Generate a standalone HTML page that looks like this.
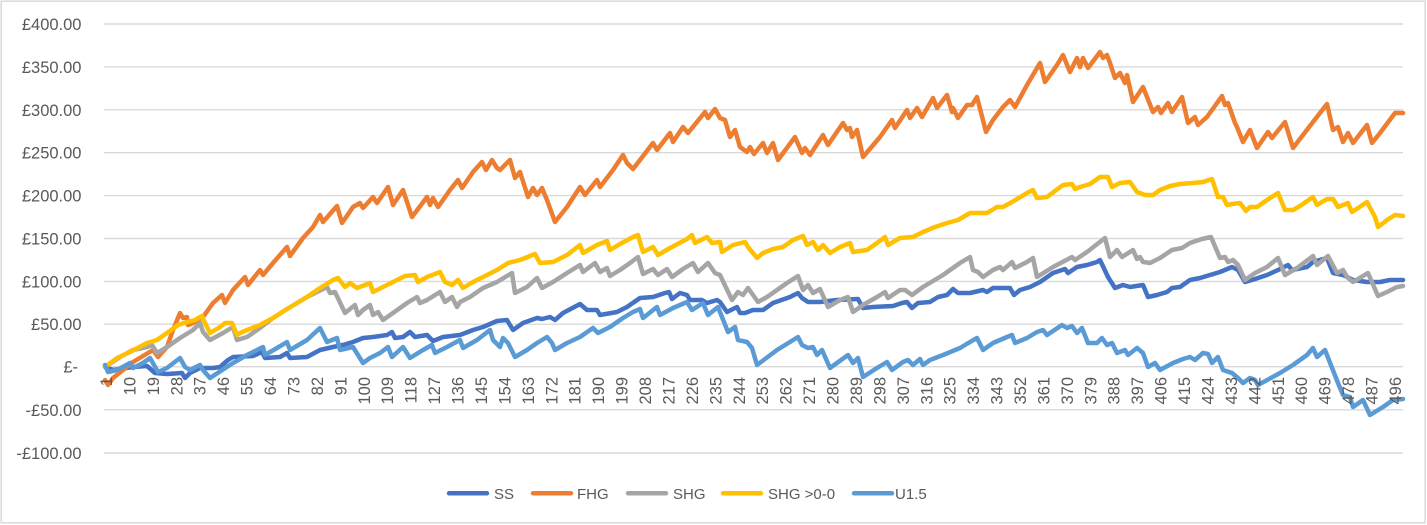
<!DOCTYPE html>
<html>
<head>
<meta charset="utf-8">
<style>
  html, body { margin: 0; padding: 0; background: #ffffff; }
  svg { display: block; }
  text { font-family: "Liberation Sans", Arial, sans-serif; fill: #595959; }
</style>
</head>
<body>
<svg width="1427" height="525" viewBox="0 0 1427 525" xmlns="http://www.w3.org/2000/svg">
  <rect x="0" y="0" width="1427" height="525" fill="#ffffff"/>
  <rect x="1.2" y="1.2" width="1424" height="521.6" fill="none" stroke="#D9D9D9" stroke-width="1.5"/>

  <!-- gridlines -->
  <g stroke="#D9D9D9" stroke-width="1.4">
    <line x1="104" y1="24" x2="1403" y2="24"/>
    <line x1="104" y1="66.9" x2="1403" y2="66.9"/>
    <line x1="104" y1="109.8" x2="1403" y2="109.8"/>
    <line x1="104" y1="152.7" x2="1403" y2="152.7"/>
    <line x1="104" y1="195.6" x2="1403" y2="195.6"/>
    <line x1="104" y1="238.5" x2="1403" y2="238.5"/>
    <line x1="104" y1="281.4" x2="1403" y2="281.4"/>
    <line x1="104" y1="324.2" x2="1403" y2="324.2"/>
    <line x1="104" y1="366.7" x2="1403" y2="366.7"/>
    <line x1="104" y1="409.8" x2="1403" y2="409.8"/>
    <line x1="104" y1="453" x2="1403" y2="453"/>
  </g>

  <!-- y axis labels -->
  <g font-size="16.5" text-anchor="end">
    <text x="81.5" y="30">£400.00</text>
    <text x="81.5" y="72.9">£350.00</text>
    <text x="81.5" y="115.8">£300.00</text>
    <text x="81.5" y="158.7">£250.00</text>
    <text x="81.5" y="201.6">£200.00</text>
    <text x="81.5" y="244.5">£150.00</text>
    <text x="81.5" y="287.4">£100.00</text>
    <text x="81.5" y="330.2">£50.00</text>
    <text x="78" y="372.7">£-</text>
    <text x="81.5" y="415.8">-£50.00</text>
    <text x="81.5" y="459">-£100.00</text>
  </g>

  <!-- series -->
  <g fill="none" stroke-width="4.5" stroke-linejoin="round" stroke-linecap="round">
    <polyline stroke="#4472C4" points="105,367 113,370 133,367 147,366 155,373 167,374 182,373 185,378 190,373 200,368 213,368 220,367 228,360 233,357 253,356 262,352 265,358 280,357 287,353 290,358 307,357 320,350 333,347 343,345 353,342 363,338 373,337 387,335 392,332 395,338 403,337 410,332 415,337 427,335 433,341 443,337 460,335 473,330 483,327 497,321 507,320 513,330 523,323 537,318 542,319 550,317 555,320 563,313 580,304 587,310 597,310 600,315 617,312 627,307 640,298 653,297 665,293 669,292 672,299 680,293 687,295 690,300 702,300 707,303 717,300 720,302 727,312 733,309 737,307 740,313 745,313 753,310 763,310 773,303 790,297 798,293 802,298 808,302 820,302 837,300 858,299 863,308 873,307 893,306 902,303 907,302 912,308 918,303 930,302 938,297 947,295 953,289 958,293 970,293 983,290 987,292 993,288 1010,288 1014,295 1020,290 1030,287 1040,282 1053,273 1065,269 1068,273 1077,267 1087,265 1097,262 1100,260 1108,277 1115,288 1123,285 1130,287 1143,285 1148,297 1157,295 1167,292 1172,288 1180,287 1190,280 1200,278 1210,275 1220,272 1232,267 1238,270 1245,282 1252,280 1267,275 1278,270 1288,265 1292,270 1307,267 1313,262 1323,259 1327,258 1333,273 1343,275 1353,280 1367,282 1380,282 1390,280 1403,280"/>
    <polyline stroke="#ED7D31" points="105,380 108,385 113,378 123,370 133,362 143,356 153,350 158,357 167,347 173,330 180,313 183,318 187,317 188,325 193,323 203,317 213,303 222,295 225,303 233,290 245,277 248,285 260,270 263,275 273,263 287,247 290,256 303,238 313,227 320,215 323,222 337,206 342,223 353,207 360,203 363,208 373,197 377,203 388,187 393,205 403,190 412,217 427,197 430,205 433,198 438,207 450,190 458,180 462,188 473,172 482,162 486,170 492,160 497,168 500,170 510,160 515,178 520,172 528,197 533,188 537,195 542,188 547,200 555,222 567,207 580,187 585,195 597,180 600,187 613,170 623,155 627,163 633,169 640,160 653,143 657,150 670,133 673,142 683,127 688,133 705,112 708,118 715,109 720,118 725,120 730,137 735,130 740,147 747,152 750,147 754,154 763,143 767,153 773,143 778,160 795,137 802,153 805,148 810,155 823,135 828,145 843,123 847,130 850,128 852,137 857,130 863,157 880,137 887,127 892,120 895,128 907,110 910,118 917,108 922,117 933,98 937,108 947,95 952,112 953,108 958,118 967,105 972,105 977,97 986,132 993,120 1003,107 1010,100 1015,107 1027,85 1040,63 1045,82 1057,65 1063,55 1070,72 1077,58 1080,67 1083,58 1088,68 1100,52 1103,58 1107,55 1110,63 1115,78 1120,73 1125,83 1127,75 1133,102 1143,87 1153,112 1158,107 1161,113 1168,103 1172,112 1182,97 1188,123 1195,117 1198,125 1207,117 1222,96 1225,105 1228,103 1235,123 1237,127 1243,142 1250,130 1257,148 1268,132 1272,138 1285,122 1293,148 1313,122 1327,104 1333,130 1338,127 1343,142 1348,133 1353,143 1367,125 1372,143 1380,133 1395,113 1403,113"/>
    <polyline stroke="#A5A5A5" points="105,367 120,357 133,350 147,347 152,345 157,353 167,347 180,338 193,330 200,323 203,332 210,340 223,333 233,327 237,340 247,337 260,328 273,318 287,309 307,297 327,287 330,293 335,292 345,313 355,305 358,315 363,310 370,305 373,315 378,312 383,320 393,313 407,303 417,297 420,303 427,300 440,292 445,302 452,297 457,307 460,302 470,297 483,288 497,282 512,273 515,293 527,287 537,278 542,288 553,282 567,273 580,265 583,272 595,263 600,272 607,268 610,276 620,270 630,263 638,257 643,274 653,269 658,275 667,269 672,277 683,269 693,263 698,272 708,263 715,273 720,275 732,300 738,292 743,295 748,288 758,302 767,297 777,290 787,283 798,276 803,290 808,285 813,293 820,289 828,307 840,300 848,297 853,312 863,305 877,297 885,292 888,298 900,290 905,290 912,295 923,287 943,275 960,263 970,257 973,270 978,272 983,277 993,270 1000,267 1003,270 1012,262 1015,268 1027,262 1033,258 1037,277 1053,267 1072,257 1075,260 1087,252 1105,238 1110,257 1117,250 1122,257 1133,250 1137,259 1140,257 1143,262 1150,263 1160,258 1172,250 1182,248 1190,243 1202,239 1211,237 1220,258 1225,257 1228,262 1233,260 1238,265 1245,280 1255,273 1267,267 1278,258 1285,275 1297,268 1313,256 1317,265 1328,256 1337,273 1343,270 1347,277 1353,282 1368,273 1378,296 1387,292 1397,287 1403,286"/>
    <polyline stroke="#FFC000" points="105,367 117,358 130,352 147,343 157,340 167,333 178,325 187,322 195,320 202,316 205,323 210,333 220,327 225,323 232,323 237,335 240,333 247,330 260,325 273,318 287,309 307,297 320,288 333,280 338,278 345,287 350,283 357,288 370,283 373,292 383,287 393,282 405,276 415,275 418,282 427,277 440,272 445,282 452,285 458,280 463,288 473,282 487,275 497,270 508,263 520,260 535,254 540,263 553,262 567,255 580,245 583,253 597,245 607,241 610,250 620,244 633,237 638,235 643,252 653,247 658,255 670,248 687,239 692,235 695,243 707,237 712,243 720,242 722,252 733,245 745,242 748,247 757,258 763,253 773,249 783,247 793,240 803,236 807,245 813,242 818,250 823,245 830,253 840,247 850,243 853,252 867,250 877,243 885,237 888,245 900,238 913,237 923,232 935,227 947,223 958,220 970,213 987,213 997,207 1003,207 1012,202 1027,193 1033,190 1037,198 1047,197 1063,185 1072,184 1075,189 1080,187 1090,184 1100,177 1108,177 1112,187 1120,183 1130,182 1137,192 1145,195 1153,195 1160,190 1170,186 1180,184 1193,183 1203,182 1212,179 1218,197 1223,197 1227,205 1232,204 1240,203 1246,211 1250,207 1257,207 1267,200 1278,193 1285,210 1293,210 1300,206 1313,197 1317,205 1327,199 1333,199 1338,207 1348,203 1352,212 1367,202 1375,217 1378,227 1387,220 1395,215 1403,216"/>
    <polyline stroke="#5B9BD5" points="105,365 108,372 117,370 130,363 133,368 143,363 150,358 158,372 167,368 180,358 185,367 190,370 200,365 203,370 210,378 233,363 247,355 263,347 265,355 277,348 287,342 290,350 307,340 320,328 327,342 337,338 340,350 353,347 363,363 370,358 380,353 388,347 392,357 403,347 410,358 423,350 432,345 435,353 447,347 460,340 463,348 477,340 490,330 493,340 500,347 503,338 508,343 515,357 527,350 537,343 547,337 552,343 555,350 567,343 580,337 593,328 598,333 610,327 623,318 633,312 640,309 643,318 657,307 660,315 673,308 687,302 692,310 703,303 708,315 718,307 728,332 735,327 738,340 747,342 752,348 757,365 777,350 798,337 802,345 808,348 813,347 817,355 822,350 830,368 848,355 853,363 858,358 863,377 877,368 887,362 892,370 903,362 908,360 913,365 920,359 923,365 930,360 943,355 960,348 970,342 977,338 983,350 993,343 1007,337 1012,335 1015,343 1027,338 1037,332 1043,330 1047,335 1062,325 1067,328 1072,326 1077,333 1082,328 1088,343 1097,343 1102,338 1107,345 1112,343 1117,353 1125,350 1128,355 1137,348 1143,353 1148,367 1155,363 1160,370 1173,363 1183,359 1190,357 1195,360 1203,353 1208,354 1212,363 1218,357 1223,370 1232,373 1238,378 1243,383 1250,378 1255,380 1258,385 1280,373 1293,365 1307,355 1313,348 1317,357 1325,350 1338,383 1343,395 1350,397 1353,407 1363,400 1370,415 1383,407 1393,400 1403,399"/>
  </g>

  <!-- x axis labels -->
  <g font-size="16.5" text-anchor="end">
    <text transform="translate(112.0,377) rotate(-90)">1</text>
    <text transform="translate(135.4,377) rotate(-90)">10</text>
    <text transform="translate(158.9,377) rotate(-90)">19</text>
    <text transform="translate(182.3,377) rotate(-90)">28</text>
    <text transform="translate(205.7,377) rotate(-90)">37</text>
    <text transform="translate(229.2,377) rotate(-90)">46</text>
    <text transform="translate(252.6,377) rotate(-90)">55</text>
    <text transform="translate(276.1,377) rotate(-90)">64</text>
    <text transform="translate(299.5,377) rotate(-90)">73</text>
    <text transform="translate(322.9,377) rotate(-90)">82</text>
    <text transform="translate(346.4,377) rotate(-90)">91</text>
    <text transform="translate(369.8,377) rotate(-90)">100</text>
    <text transform="translate(393.2,377) rotate(-90)">109</text>
    <text transform="translate(416.7,377) rotate(-90)">118</text>
    <text transform="translate(440.1,377) rotate(-90)">127</text>
    <text transform="translate(463.5,377) rotate(-90)">136</text>
    <text transform="translate(487.0,377) rotate(-90)">145</text>
    <text transform="translate(510.4,377) rotate(-90)">154</text>
    <text transform="translate(533.8,377) rotate(-90)">163</text>
    <text transform="translate(557.3,377) rotate(-90)">172</text>
    <text transform="translate(580.7,377) rotate(-90)">181</text>
    <text transform="translate(604.2,377) rotate(-90)">190</text>
    <text transform="translate(627.6,377) rotate(-90)">199</text>
    <text transform="translate(651.0,377) rotate(-90)">208</text>
    <text transform="translate(674.5,377) rotate(-90)">217</text>
    <text transform="translate(697.9,377) rotate(-90)">226</text>
    <text transform="translate(721.3,377) rotate(-90)">235</text>
    <text transform="translate(744.8,377) rotate(-90)">244</text>
    <text transform="translate(768.2,377) rotate(-90)">253</text>
    <text transform="translate(791.6,377) rotate(-90)">262</text>
    <text transform="translate(815.1,377) rotate(-90)">271</text>
    <text transform="translate(838.5,377) rotate(-90)">280</text>
    <text transform="translate(861.9,377) rotate(-90)">289</text>
    <text transform="translate(885.4,377) rotate(-90)">298</text>
    <text transform="translate(908.8,377) rotate(-90)">307</text>
    <text transform="translate(932.3,377) rotate(-90)">316</text>
    <text transform="translate(955.7,377) rotate(-90)">325</text>
    <text transform="translate(979.1,377) rotate(-90)">334</text>
    <text transform="translate(1002.6,377) rotate(-90)">343</text>
    <text transform="translate(1026.0,377) rotate(-90)">352</text>
    <text transform="translate(1049.4,377) rotate(-90)">361</text>
    <text transform="translate(1072.9,377) rotate(-90)">370</text>
    <text transform="translate(1096.3,377) rotate(-90)">379</text>
    <text transform="translate(1119.7,377) rotate(-90)">388</text>
    <text transform="translate(1143.2,377) rotate(-90)">397</text>
    <text transform="translate(1166.6,377) rotate(-90)">406</text>
    <text transform="translate(1190.1,377) rotate(-90)">415</text>
    <text transform="translate(1213.5,377) rotate(-90)">424</text>
    <text transform="translate(1236.9,377) rotate(-90)">433</text>
    <text transform="translate(1260.4,377) rotate(-90)">442</text>
    <text transform="translate(1283.8,377) rotate(-90)">451</text>
    <text transform="translate(1307.2,377) rotate(-90)">460</text>
    <text transform="translate(1330.7,377) rotate(-90)">469</text>
    <text transform="translate(1354.1,377) rotate(-90)">478</text>
    <text transform="translate(1377.5,377) rotate(-90)">487</text>
    <text transform="translate(1401.0,377) rotate(-90)">496</text>
  </g>

  <!-- legend -->
  <g stroke-width="4.5" stroke-linecap="round">
    <line x1="449" y1="493.3" x2="487" y2="493.3" stroke="#4472C4"/>
    <line x1="533" y1="493.3" x2="571" y2="493.3" stroke="#ED7D31"/>
    <line x1="628" y1="493.3" x2="666" y2="493.3" stroke="#A5A5A5"/>
    <line x1="723" y1="493.3" x2="761" y2="493.3" stroke="#FFC000"/>
    <line x1="854" y1="493.3" x2="892" y2="493.3" stroke="#5B9BD5"/>
  </g>
  <g font-size="15">
    <text x="494" y="499">SS</text>
    <text x="577" y="499">FHG</text>
    <text x="673" y="499">SHG</text>
    <text x="768" y="499">SHG &gt;0-0</text>
    <text x="895" y="499">U1.5</text>
  </g>
</svg>
</body>
</html>
